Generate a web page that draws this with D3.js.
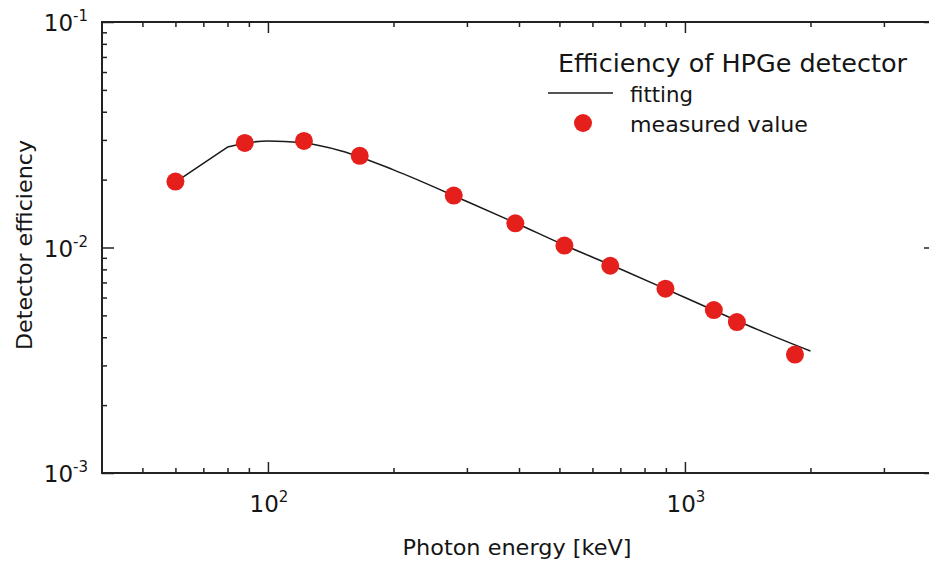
<!DOCTYPE html>
<html>
<head>
<meta charset="utf-8">
<script src="https://cdn.jsdelivr.net/npm/d3@7/dist/d3.min.js"></script>
<style>
  html, body { margin: 0; padding: 0; background: #fff; }
  svg { display: block; font-family: "DejaVu Sans", Verdana, sans-serif; }
</style>
</head>
<body>
<svg id="chart" width="929" height="565"></svg>
<script>
// Measured full-energy-peak efficiency of the HPGe detector
const measuredEnergy = [60, 88, 122, 166, 279, 392, 514, 662, 898, 1173, 1332, 1836];
const measuredEff = [0.0196, 0.0291, 0.0297, 0.0255, 0.0170, 0.0128, 0.0102, 0.0083, 0.00657, 0.00528, 0.00467, 0.00335];

// Fitted efficiency curve (straight rise up to the knee, smooth beyond it)
const fitEnergy = [60, 80, 90, 100, 120, 150, 200, 300, 400, 500, 700, 1000, 1500, 2000];
const fitEff = [0.0195, 0.0279, 0.0292, 0.0297, 0.0292, 0.0268, 0.0221, 0.0160, 0.01265, 0.01047, 0.00803, 0.0060, 0.00431, 0.003475];
const kneeIndex = 1;

// Axis ticks and labels
const xMajorTicks = [100, 1000];
const xMinorTicks = [50, 60, 70, 80, 90, 200, 300, 400, 500, 600, 700, 800, 900, 2000, 3000];
const xTickExponents = ["2", "3"];
const yMajorTicks = [0.001, 0.01, 0.1];
const yMinorTicks = [0.002, 0.003, 0.004, 0.005, 0.006, 0.007, 0.008, 0.009,
                     0.02, 0.03, 0.04, 0.05, 0.06, 0.07, 0.08, 0.09];
const yTickExponents = ["-3", "-2", "-1"];

const xTitle = "Photon energy [keV]";
const yTitle = "Detector efficiency";
const legendTitle = "Efficiency of HPGe detector";
const seriesNames = ["fitting", "measured value"];

const svg = d3.select("#chart");
const plotLeft = 102, plotRight = 936, plotTop = 22, plotBottom = 473;

const x = d3.scaleLog().domain([40, 4000]).range([plotLeft, plotRight]);
const y = d3.scaleLog().domain([0.001, 0.1]).range([plotBottom, plotTop]);

svg.append("rect").attr("width", 929).attr("height", 565).attr("fill", "#fff");

const axisColor = "#222";
const textColor = "#151515";

function styleAxis(g, width) {
  g.select(".domain").remove();
  g.selectAll(".tick line").attr("stroke", axisColor).attr("stroke-width", width);
}

// inward ticks on all four sides
function drawTicks(gen, transform, values, size) {
  svg.append("g").attr("transform", transform)
    .call(gen.tickValues(values).tickSize(size).tickSizeOuter(0).tickFormat(""))
    .call(g => styleAxis(g, 1.5));
}
drawTicks(d3.axisBottom(x), `translate(0,${plotBottom})`, xMinorTicks, -5);
drawTicks(d3.axisTop(x), `translate(0,${plotTop})`, xMinorTicks, -5);
drawTicks(d3.axisBottom(x), `translate(0,${plotBottom})`, xMajorTicks, -11);
drawTicks(d3.axisTop(x), `translate(0,${plotTop})`, xMajorTicks, -11);
drawTicks(d3.axisLeft(y), `translate(${plotLeft},0)`, yMinorTicks, -5);
drawTicks(d3.axisRight(y), `translate(${plotRight},0)`, yMinorTicks, -5);
drawTicks(d3.axisLeft(y), `translate(${plotLeft},0)`, yMajorTicks, -12);
drawTicks(d3.axisRight(y), `translate(${plotRight},0)`, yMajorTicks, -12);

// frame
svg.append("rect")
  .attr("x", plotLeft).attr("y", plotTop)
  .attr("width", plotRight - plotLeft).attr("height", plotBottom - plotTop)
  .attr("fill", "none").attr("stroke", axisColor).attr("stroke-width", 2);

// power-of-ten tick labels
xMajorTicks.forEach((v, i) => {
  const t = svg.append("text")
    .attr("x", x(v) + 1).attr("y", 512)
    .attr("text-anchor", "middle")
    .attr("font-size", 23).attr("fill", textColor);
  t.append("tspan").text("10");
  t.append("tspan").attr("dy", -10).attr("font-size", 15).text(xTickExponents[i]);
});
yMajorTicks.forEach((v, i) => {
  const t = svg.append("text")
    .attr("x", 88).attr("y", y(v) + 9)
    .attr("text-anchor", "end")
    .attr("font-size", 23).attr("fill", textColor);
  t.append("tspan").text("10");
  t.append("tspan").attr("dy", -10).attr("font-size", 15).text(yTickExponents[i]);
});

// axis titles
svg.append("text")
  .attr("x", 517).attr("y", 555)
  .attr("text-anchor", "middle")
  .attr("font-size", 22).attr("fill", textColor)
  .attr("textLength", 229).attr("lengthAdjust", "spacingAndGlyphs")
  .text(xTitle);
svg.append("text")
  .attr("transform", "translate(32,245) rotate(-90)")
  .attr("text-anchor", "middle")
  .attr("font-size", 22).attr("fill", textColor)
  .attr("textLength", 210).attr("lengthAdjust", "spacingAndGlyphs")
  .text(yTitle);

// fitted curve
const idx = d3.range(fitEnergy.length);
const riseLine = d3.line()
  .x(i => x(fitEnergy[i]))
  .y(i => y(fitEff[i]));
const fallLine = d3.line()
  .x(i => x(fitEnergy[i]))
  .y(i => y(fitEff[i]))
  .curve(d3.curveMonotoneX);
svg.append("path")
  .attr("d", riseLine(idx.slice(0, kneeIndex + 1)) + fallLine(idx.slice(kneeIndex)).replace(/^M/, "L"))
  .attr("fill", "none")
  .attr("stroke", "#1a1a1a")
  .attr("stroke-width", 1.5)
  .attr("stroke-linejoin", "round");

// measured points
const red = "#e5201c";
svg.append("g")
  .selectAll("circle")
  .data(measuredEnergy)
  .join("circle")
  .attr("cx", d => x(d))
  .attr("cy", (d, i) => y(measuredEff[i]))
  .attr("r", 9)
  .attr("fill", red);

// legend
const lg = svg.append("g");
lg.append("text")
  .attr("x", 558).attr("y", 72)
  .attr("font-size", 24).attr("fill", textColor)
  .attr("textLength", 349).attr("lengthAdjust", "spacingAndGlyphs")
  .text(legendTitle);
lg.append("line")
  .attr("x1", 548).attr("x2", 613).attr("y1", 93).attr("y2", 93)
  .attr("stroke", "#1a1a1a").attr("stroke-width", 1.5);
lg.append("text")
  .attr("x", 630).attr("y", 102)
  .attr("font-size", 21).attr("fill", textColor)
  .attr("textLength", 63).attr("lengthAdjust", "spacingAndGlyphs")
  .text(seriesNames[0]);
lg.append("circle")
  .attr("cx", 583).attr("cy", 123).attr("r", 9).attr("fill", red);
lg.append("text")
  .attr("x", 630).attr("y", 132)
  .attr("font-size", 21).attr("fill", textColor)
  .attr("textLength", 178).attr("lengthAdjust", "spacingAndGlyphs")
  .text(seriesNames[1]);
</script>
</body>
</html>
